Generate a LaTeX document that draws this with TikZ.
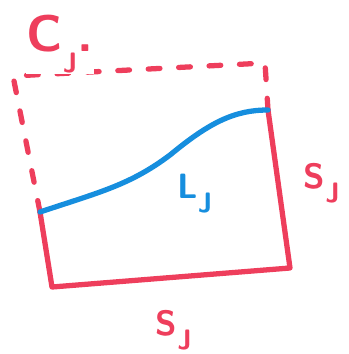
\documentclass[tikz,border=0pt]{standalone}
\usepackage{xcolor}
\usepackage{tikz}
\usetikzlibrary{positioning}
\definecolor{markerred}{RGB}{238, 62, 92}
\definecolor{markerblue}{RGB}{22, 142, 222}
\newcommand{\handsub}[1]{\raisebox{-0.4em}{\fontsize{24}{24}\selectfont #1}}

\begin{document}
\begin{tikzpicture}[x=0.03cm, y=-0.03cm,
    redline/.style={draw=markerred, line width=4.5pt, line cap=round, line join=round},
    reddash/.style={redline, dash pattern=on 10pt off 16pt},
    redlabel/.style={text=markerred, font=\sffamily\bfseries\fontsize{30}{30}\selectfont, inner sep=0pt}]
    \useasboundingbox (0,0) rectangle (349,354);
    \coordinate (blcorner) at (52,287);
    \coordinate (brcorner) at (290,268);
    \coordinate (rmeet) at (268,110);
    \coordinate (lmeet) at (40,212);
    \coordinate (trcorner) at (265,63);
    \coordinate (tlcorner) at (13,76);
    \coordinate (curvemid) at (170,155);
    % solid part below the curve
    \draw[redline] (lmeet) -- (blcorner) -- (brcorner) -- (rmeet);
    % dashed part above
    \draw[reddash] (rmeet) -- (trcorner) -- (tlcorner) -- (lmeet);
    \draw[draw=markerblue, line width=4.5pt, line cap=round]
        (lmeet) .. controls (100,192) and (130,185) .. (curvemid)
        .. controls (210,122) and (235,110) .. (rmeet);
    \node[redlabel, fill=white, inner sep=1pt, font=\sffamily\bfseries\fontsize{44}{44}\selectfont] (cj) at (60,44) {C\handsub{J}.};
    \node[redlabel] (sright) at (322,183) {S\handsub{J}};
    \node[redlabel] (sbottom) at (174,330) {S\handsub{J}};
    \node[redlabel, text=markerblue] (lj) at (195,194) {L\handsub{J}};
\end{tikzpicture}
\end{document}
